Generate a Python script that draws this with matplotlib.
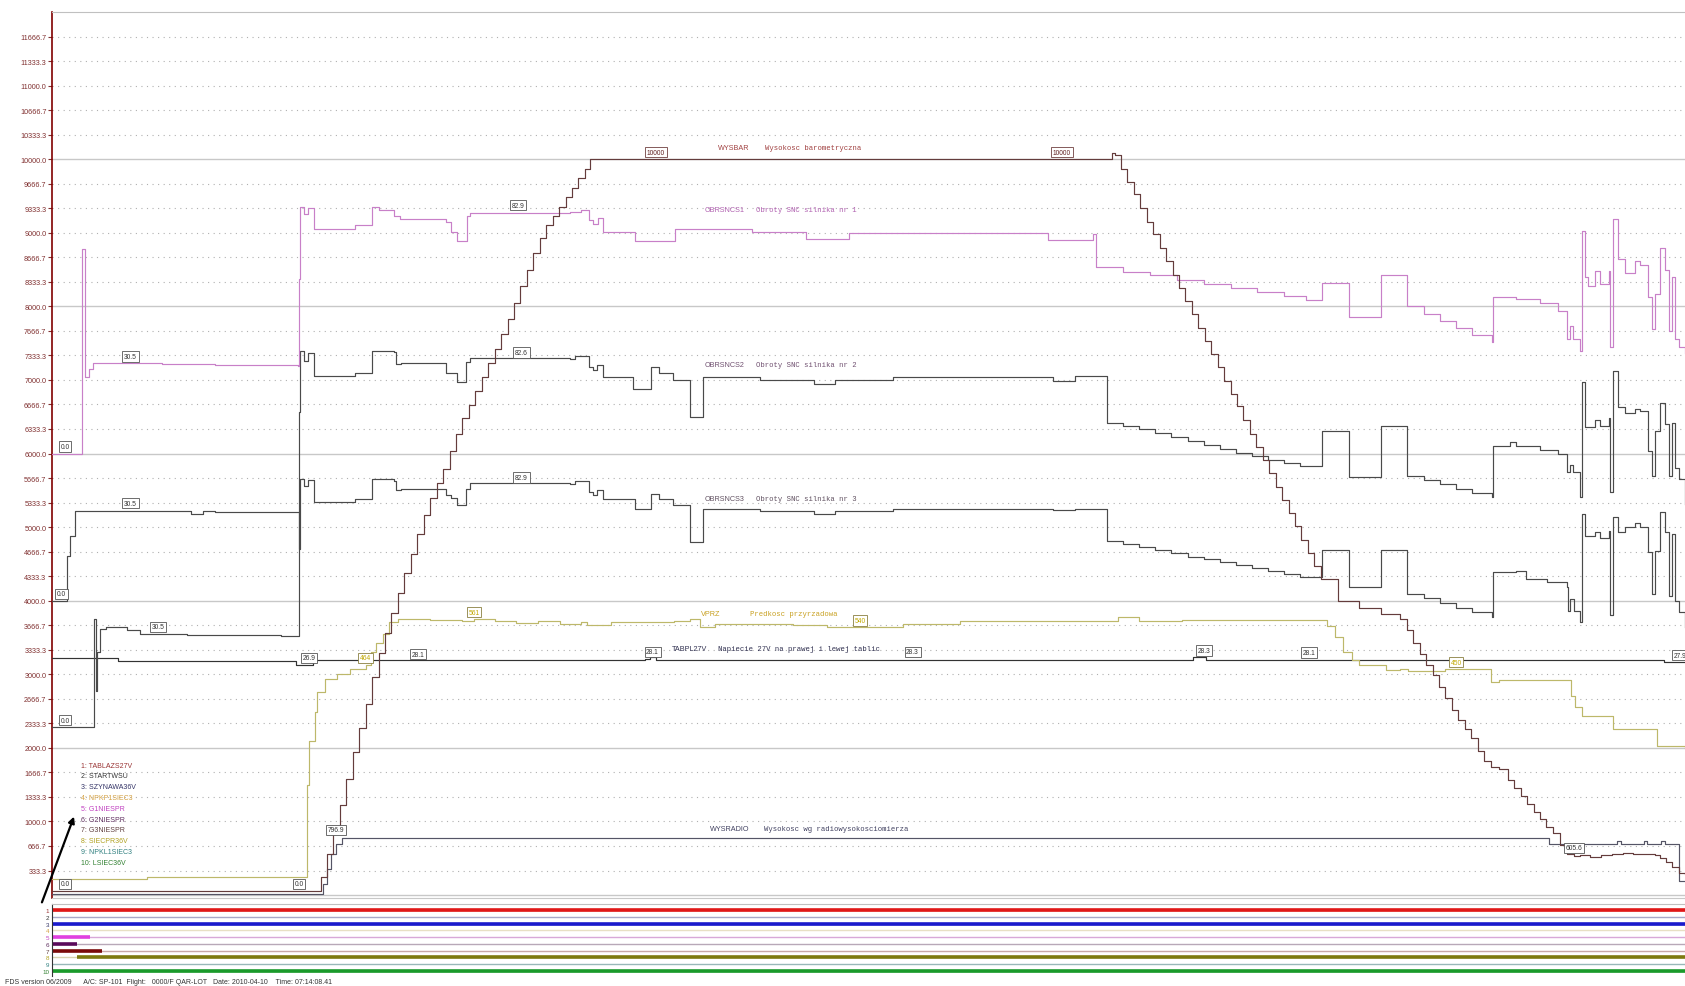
import numpy as np
import matplotlib.pyplot as plt

plt.rcParams['font.family'] = ['Liberation Sans', 'DejaVu Sans']

# ---------------- DATA (sample number, value) ----------------
# WYSBAR - wysokosc barometryczna
bar_t = [48, 292, 298, 304, 310, 316, 322, 328, 334, 340, 346, 352, 358, 364, 370, 376, 382,
         388, 394, 400, 406, 412, 418, 424, 430, 436, 442, 448, 454, 460, 466, 472, 478, 484,
         490, 496, 502, 508, 514, 520, 526, 532, 538, 544, 549,
         1030, 1035, 1037, 1043, 1049, 1055, 1061, 1067, 1073, 1079, 1085, 1091, 1097, 1103,
         1109, 1115, 1121, 1127, 1133, 1139, 1145, 1151, 1157, 1163, 1169, 1175, 1181, 1187,
         1193, 1199, 1205, 1211, 1217, 1223, 1229,
         1245, 1265, 1285, 1303, 1309, 1315, 1321, 1327, 1333, 1339, 1345, 1351, 1357, 1363,
         1369, 1375, 1381, 1387, 1395, 1403, 1409, 1415, 1421, 1427, 1433, 1439, 1445, 1452,
         1458, 1465, 1470, 1480, 1490, 1500, 1510, 1520, 1530, 1540, 1545, 1550, 1556, 1562,
         1568]
bar_v = [58, 60, 250, 560, 900, 1230, 1580, 1940, 2270, 2600, 2960, 3290, 3560, 3830, 4100,
         4370, 4640, 4910, 5160, 5400, 5600, 5790, 6030, 6270, 6480, 6660, 6850, 7040, 7230,
         7420, 7620, 7830, 8040, 8270, 8500, 8720, 8930, 9100, 9230, 9350, 9480, 9610, 9740,
         9870, 10000,
         10000, 10080, 10050, 9870, 9690, 9520, 9330, 9150, 8980, 8790, 8610, 8430, 8250,
         8070, 7900, 7710, 7530, 7350, 7170, 6990, 6810, 6640, 6450, 6270, 6090, 5910, 5730,
         5550, 5370, 5190, 5010, 4830, 4650, 4470, 4290,
         4000, 3900, 3820, 3750, 3600, 3420, 3280, 3120, 2990, 2830, 2680, 2520, 2380, 2250,
         2130, 1960, 1820, 1740, 1712, 1570, 1460, 1350, 1240, 1128, 1030, 930, 850, 680, 560,
         530, 545, 520, 540, 560, 575, 555, 560, 545, 500, 450, 380, 300, 285]

# OBRSNCS1
s1_t = [48, 76, 79, 82, 86, 150, 200, 277, 278, 279, 283, 286, 292, 330, 346, 352, 366, 372,
        415, 419, 425, 434, 437, 530, 540, 548, 552, 556, 561, 591, 628, 700, 750, 790, 975,
        1017, 1020, 1045, 1070, 1095, 1120, 1145, 1170, 1195, 1215, 1230, 1255, 1285, 1309,
        1325, 1340, 1355, 1370, 1388, 1389, 1411, 1433, 1450, 1458, 1461, 1464, 1470, 1472,
        1475, 1478, 1484, 1489, 1497, 1498, 1501, 1506, 1512, 1521, 1526, 1534, 1537, 1540,
        1545, 1549, 1553, 1556, 1559, 1562, 1568]
s1_v = [6000, 8780, 7040, 7150, 7230, 7220, 7200, 7190, 8370, 9350, 9260, 9330, 9051, 9100,
        9350, 9310, 9232, 9187, 9150, 9013, 8893, 9232, 9270, 9280, 9310, 9172, 9125, 9200,
        9013, 8893, 9050, 9006, 8918, 8991, 8904, 8990, 8538, 8470, 8420, 8360, 8310, 8250,
        8200, 8140, 8080, 8320, 7850, 8420, 8005, 7900, 7800, 7700, 7610, 7515, 8127, 8100,
        8040, 7941, 7556, 7737, 7556, 7393, 9029, 8395, 8281, 8486, 8300, 8486, 7448, 9187,
        8644, 8450, 8620, 8560, 8127, 7693, 8170, 8794, 8500, 7670, 8395, 7556, 7450, 7371]

# OBRSNCS2
s2_t = [48, 87, 88.5, 90, 93, 98, 118, 130, 174, 261, 277, 278, 279, 283, 286, 292, 330, 346,
        366, 368, 373, 415, 419, 425, 433, 437, 530, 535, 548, 552, 555, 561, 589, 606, 613,
        626, 642, 654, 707, 757, 777, 831, 980, 1000, 1030, 1045, 1060, 1075, 1090, 1105,
        1120, 1135, 1150, 1165, 1180, 1195, 1210, 1230, 1255, 1285, 1309, 1325, 1340, 1355,
        1370, 1388, 1389, 1405, 1411, 1433, 1450, 1458, 1461, 1464, 1470, 1472, 1475, 1484,
        1489, 1497, 1498, 1501, 1506, 1512, 1521, 1526, 1534, 1537, 1540, 1545, 1549, 1553,
        1556, 1559, 1562, 1568]
s2_v = [2280, 3751, 2777, 3300, 3615, 3640, 3600, 3550, 3530, 3515, 3515, 6564, 7389, 7260,
        7360, 7057, 7100, 7400, 7380, 7217, 7232, 7100, 7100, 6967, 7240, 7300, 7280, 7330,
        7172, 7130, 7200, 7043, 6877, 7175, 7100, 7000, 6496, 7040, 7000, 6950, 7000, 7040,
        6980, 7047, 6418, 6380, 6330, 6280, 6230, 6170, 6110, 6060, 6010, 5960, 5910, 5870,
        5830, 6300, 5687, 6374, 5699, 5640, 5580, 5520, 5460, 5409, 6106, 6160, 6100, 6050,
        6000, 5750, 5850, 5750, 5409, 6972, 6360, 6450, 6380, 6480, 5475, 7125, 6627, 6550,
        6600, 6580, 6036, 5700, 6300, 6693, 6400, 5700, 6420, 5800, 5650, 5318]

# OBRSNCS3
s3_t = [48, 62, 65, 69, 177, 189, 200, 277, 278, 279, 283, 286, 292, 330, 346, 366, 368, 373,
        415, 419, 425, 433, 437, 530, 535, 548, 552, 555, 561, 591, 606, 613, 626, 642, 654,
        707, 757, 777, 831, 980, 1000, 1030, 1045, 1060, 1075, 1090, 1105, 1120, 1135, 1150,
        1165, 1180, 1195, 1210, 1230, 1255, 1285, 1309, 1325, 1340, 1355, 1370, 1388, 1389,
        1411, 1420, 1440, 1458, 1459, 1461, 1465, 1470, 1472, 1475, 1484, 1489, 1497, 1498,
        1501, 1506, 1512, 1521, 1526, 1534, 1537, 1540, 1545, 1549, 1553, 1556, 1559, 1562,
        1568]
s3_v = [4000, 4611, 4883, 5222, 5175, 5220, 5200, 5200, 4700, 5654, 5560, 5640, 5341, 5380,
        5650, 5620, 5500, 5520, 5430, 5400, 5300, 5520, 5600, 5580, 5630, 5480, 5440, 5500,
        5380, 5250, 5450, 5380, 5300, 4800, 5250, 5220, 5180, 5220, 5250, 5230, 5250, 4810,
        4770, 4730, 4690, 4650, 4600, 4560, 4520, 4480, 4440, 4400, 4360, 4320, 4690, 4180,
        4690, 4091, 4030, 3970, 3900, 3840, 3778, 4390, 4400, 4300, 4250, 4192, 3860, 4020,
        3860, 3710, 5178, 4882, 4930, 4850, 4950, 3800, 5132, 4930, 5000, 5060, 5000, 4660,
        4090, 4680, 5200, 4930, 4070, 4910, 4000, 3850, 3640]

# VPRZ - predkosc przyrzadowa
vp_t = [48, 136, 283, 285, 287, 293, 295, 302, 313, 325, 340, 345, 350, 356, 362, 370, 400,
        430, 441, 460, 480, 500, 521, 540, 546, 568, 627, 642, 651, 665, 738, 769, 840, 893,
        1040, 1060, 1100, 1228, 1235, 1242, 1250, 1258, 1265, 1290, 1303, 1310, 1345, 1385,
        1387, 1395, 1456, 1462, 1466, 1472, 1498, 1501, 1538, 1542, 1568]
vp_v = [217, 245, 245, 1500, 2100, 2487, 2760, 2935, 3003, 3071, 3129, 3300, 3420, 3550, 3713,
        3757, 3740, 3720, 3750, 3720, 3700, 3720, 3683, 3705, 3670, 3705, 3720, 3750, 3638,
        3683, 3670, 3638, 3683, 3720, 3780, 3730, 3740, 3740, 3650, 3500, 3300, 3200, 3129,
        3055, 3071, 3050, 3071, 3071, 2894, 2924, 2924, 2700, 2550, 2436, 2436, 2256, 2256,
        2029, 2000]

# TABPL27V
tab_t = [48, 109, 275, 291, 600, 605, 610, 1110, 1122, 1548, 1568]
tab_v = [3220, 3180, 3130, 3200, 3210, 3240, 3200, 3230, 3200, 3165, 3165]

# WYSRADIO
rad_t = [48, 296, 300, 304, 308, 312, 318, 1439, 1441, 1505, 1508, 1530, 1533, 1546, 1549,
         1562, 1568]
rad_v = [15, 15, 150, 350, 560, 700, 780, 780, 693, 740, 693, 740, 693, 740, 693, 195, 195]

# boxed value tags: text, sample, value
tags_txt = ['0.0', '30.5', '0.0', '30.5', '30.5', '0.0', '26.9', '28.1', '28.1', '28.3',
            '28.3', '28.1', '27.9', '82.9', '82.6', '82.9', '796.9', '605.6', '0.0', '0.0']
tags_t = [60, 121, 57, 121, 147, 60, 287, 389, 607, 849, 1120, 1218, 1563, 482, 485, 485,
          312, 1465, 278, 60]
tags_v = [6000, 7225, 4000, 5230, 3550, 2280, 3130, 3180, 3210, 3210, 3230, 3200, 3165, 9280,
          7280, 5580, 790, 545, 58, 58]
vtags_txt = ['464', '561', '540', '450']
vtags_t = [340, 441, 800, 1355]
vtags_v = [3129, 3750, 3638, 3071]
btags_t = [610, 988]

# discrete channels (bottom strip)
ch_names = ['TABLAZS27V', 'STARTWSU', 'SZYNAWA36V', 'NPKP1SIEC3', 'G1NIESPR', 'G2NIESPR',
            'G3NIESPR', 'SIECPR36V', 'NPKL1SIEC3', 'LSIEC36V']
ch_on = [(48, 1568), None, (48, 1568), None, (48, 83), (48, 71), (48, 95), (71, 1568), None,
         (48, 1568)]
ch_on_col = ['#e01818', None, '#1a1acc', None, '#e040e0', '#5a0a5a', '#7a0a0a', '#7d7a10',
             None, '#1a9a2a']
ch_off_col = ['#e01818', '#a8a8c8', '#1a1acc', '#e8e0c4', '#d8a8d8', '#b8a8b8', '#c8a8a8',
              '#d8d4b0', '#98b8b8', '#1a9a2a']
leg_col = ['#993333', '#333333', '#333366', '#d4a040', '#c040c0', '#603060', '#604040',
           '#b0a020', '#308080', '#308030']

T0, T1 = 48, 1568

fig = plt.figure(figsize=(16.85, 9.87), dpi=100)
ax = fig.add_axes([52 / 1685, 1 - 899 / 987, 1 - 52 / 1685, 886 / 987])
ax.set_xlim(T0, T1)
ax.set_ylim(-40, 12000)

# grid
ticks = np.arange(1, 36) * (1000 / 3.0)
for v in ticks:
    if abs(v / 2000 - round(v / 2000)) < 1e-6:
        ax.axhline(v, color='#c8c8c8', lw=1.0, zorder=1)
    else:
        ax.axhline(v, color='#b0b0b0', lw=0.8, ls=(0, (1, 4)), zorder=1)
ax.axhline(0, color='#c8c8c8', lw=1.0, zorder=1)

ax.set_yticks(ticks)
ax.set_yticklabels(['%.1f' % v for v in ticks])
ax.tick_params(axis='y', labelsize=5.2, colors='#803030', length=3, width=0.8, pad=1)
ax.tick_params(axis='x', bottom=False, labelbottom=False)
ax.spines['right'].set_visible(False)
ax.spines['left'].set_color('#800000')
ax.spines['left'].set_linewidth(1.2)
ax.spines['top'].set_color('#c0c0c0')
ax.spines['bottom'].set_color('#c8c8c8')

lw = 0.85
ax.plot(tab_t, tab_v, drawstyle='steps-post', color='#333333', lw=lw, zorder=3)
ax.plot(rad_t, rad_v, drawstyle='steps-post', color='#555566', lw=lw, zorder=3)
ax.plot(vp_t, vp_v, drawstyle='steps-post', color='#bdb86a', lw=lw, zorder=3)
ax.plot(s3_t, s3_v, drawstyle='steps-post', color='#4a4a4a', lw=lw, zorder=3)
ax.plot(s2_t, s2_v, drawstyle='steps-post', color='#4a4a4a', lw=lw, zorder=3)
ax.plot(s1_t, s1_v, drawstyle='steps-post', color='#c880c8', lw=lw, zorder=3)
ax.plot(bar_t, bar_v, drawstyle='steps-post', color='#643c3c', lw=lw, zorder=4)


def tag(txt, x, y, col='#333333', ec='#555555'):
    ax.annotate(txt, xy=(x, y), xytext=(0, 2.5), textcoords='offset points', ha='center',
                va='bottom', fontsize=4.8, color=col, zorder=6,
                bbox=dict(boxstyle='square,pad=0.25', fc='white', ec=ec, lw=0.6))


for i in range(len(tags_txt)):
    tag(tags_txt[i], tags_t[i], tags_v[i])
for i in range(len(vtags_txt)):
    tag(vtags_txt[i], vtags_t[i], vtags_v[i], col='#c0a800', ec='#8a8040')
for x in btags_t:
    tag('10000', x, 10000, col='#602020', ec='#704040')

# series names
names = [('WYSBAR', 'Wysokosc barometryczna', 668, 712, 10160, '#a04040'),
         ('OBRSNCS1', 'Obroty SNC silnika nr 1', 655, 703, 9313, '#b060b0'),
         ('OBRSNCS2', 'Obroty SNC silnika nr 2', 655, 703, 7208, '#705070'),
         ('OBRSNCS3', 'Obroty SNC silnika nr 3', 655, 703, 5395, '#605060'),
         ('VPRZ', 'Predkosc przyrzadowa', 652, 698, 3830, '#c8a020'),
         ('TABPL27V', 'Napiecie 27V na prawej i lewej tablic', 625, 668, 3348, '#303050'),
         ('WYSRADIO', 'Wysokosc wg radiowysokosciomierza', 660, 711, 906, '#404060')]
for nm, desc, x1, x2, y, c in names:
    ax.text(x1, y, nm, fontsize=5.2, color=c, va='center', zorder=6)
    ax.text(x2, y, desc, fontsize=5.2, color=c, va='center', zorder=6,
            family=['Liberation Mono', 'DejaVu Sans Mono'])

# numbered list of discrete channels
for i, nm in enumerate(ch_names):
    ax.text(0.0178, 0.150 - i * 0.0122, '%d: %s' % (i + 1, nm), transform=ax.transAxes,
            fontsize=5, color=leg_col[i], va='center')

# bottom strip with discrete channels
ax2 = fig.add_axes([52 / 1685, 1 - 977 / 987, 1 - 52 / 1685, 72 / 987])
ax2.set_xlim(T0, T1)
ax2.set_ylim(10.74, 0.115)
for i in range(10):
    y = i + 1
    ax2.plot([T0, T1], [y, y], color=ch_off_col[i], lw=1.0)
    if ch_on[i] is not None:
        ax2.plot(ch_on[i], [y, y], color=ch_on_col[i], lw=2.6, solid_capstyle='butt')
ax2.set_yticks(range(1, 11))
ax2.set_yticklabels([str(k) for k in range(1, 11)])
for lab, c in zip(ax2.get_yticklabels(), leg_col):
    lab.set_color(c)
ax2.tick_params(axis='y', labelsize=4.5, length=0, pad=2)
ax2.tick_params(axis='x', bottom=False, labelbottom=False)
for s in ['right', 'bottom']:
    ax2.spines[s].set_visible(False)
ax2.spines['top'].set_color('#c0c0c0')
ax2.spines['left'].set_color('#333333')

# pointer arrow to the list
fig.add_artist(plt.Annotation('', xy=(0.0445, 0.1743), xytext=(0.0243, 0.0821),
                              xycoords='figure fraction', textcoords='figure fraction',
                              arrowprops=dict(arrowstyle='-|>', color='black', lw=1.6,
                                              mutation_scale=9)))

fig.text(0.003, 0.003, 'FDS version 06/2009      A/C: SP-101  Flight:   0000/F QAR-LOT   '
         'Date: 2010-04-10    Time: 07:14:08.41', fontsize=5, color='#333333')

fig.savefig('out.png', dpi=100)
